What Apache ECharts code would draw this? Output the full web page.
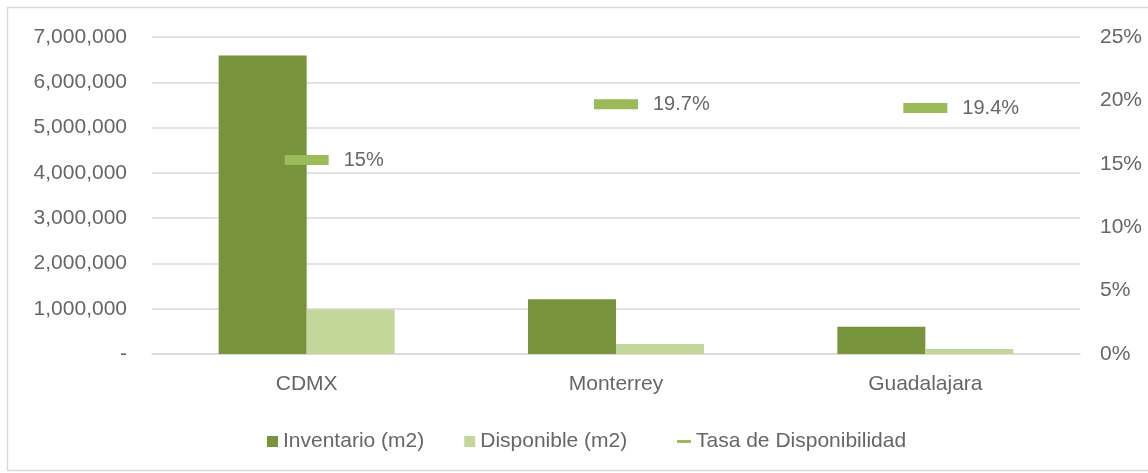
<!DOCTYPE html>
<html>
<head>
<meta charset="utf-8">
<script src="https://cdn.jsdelivr.net/npm/echarts@6/dist/echarts.min.js"></script>
<style>
html,body{margin:0;padding:0;background:#fff;}
#chart{width:1148px;height:473px;}
</style>
</head>
<body>
<div id="chart"></div>
<script>
const categories = ['CDMX', 'Monterrey', 'Guadalajara'];
const inventario = [6590000, 1210000, 600000];
const disponible = [990000, 220000, 110000];
const tasa = [15.3, 19.7, 19.4];
const tasaLabels = ['15%', '19.7%', '19.4%'];
const leftTickLabels = ['-', '1,000,000', '2,000,000', '3,000,000', '4,000,000', '5,000,000', '6,000,000', '7,000,000'];
const rightTickLabels = ['0%', '5%', '10%', '15%', '20%', '25%'];

const FONT = 'Liberation Sans';
const TXT = '#666666';
const chart = echarts.init(document.getElementById('chart'));
chart.setOption({
  animation: false,
  backgroundColor: '#fff',
  textStyle: { fontFamily: FONT },
  graphic: [{
    type: 'rect', silent: true, z: -10,
    shape: { x: 7.5, y: 7.5, width: 1160, height: 463 },
    style: { fill: 'none', stroke: '#d9d9d9', lineWidth: 1.5 }
  }],
  grid: { left: 152, right: 68, top: 37, bottom: 119 },
  legend: [{
    data: ['Inventario (m2)', 'Disponible (m2)'],
    left: 262, top: 426,
    icon: 'rect', itemWidth: 11, itemHeight: 11, itemGap: 40,
    textStyle: { color: TXT, fontSize: 21, fontFamily: FONT, padding: [0, 0, 0, 0] }
  }, {
    data: ['Tasa de Disponibilidad'],
    left: 672, top: 426,
    icon: 'rect', itemWidth: 14, itemHeight: 3,
    textStyle: { color: TXT, fontSize: 21, fontFamily: FONT }
  }],
  xAxis: {
    type: 'category', data: categories,
    axisLine: { lineStyle: { color: '#d9d9d9', width: 1.5 } },
    axisTick: { show: false },
    axisLabel: { color: TXT, fontSize: 21, margin: 20, fontFamily: FONT }
  },
  yAxis: [{
    type: 'value', min: 0, max: 7000000, interval: 1000000,
    axisLine: { show: false }, axisTick: { show: false },
    splitLine: { lineStyle: { color: '#d9d9d9', width: 1.5 } },
    axisLabel: { color: TXT, fontSize: 21, margin: 25, fontFamily: FONT,
      formatter: v => leftTickLabels[Math.round(v / 1000000)] }
  }, {
    type: 'value', min: 0, max: 25, interval: 5,
    axisLine: { show: false }, axisTick: { show: false },
    splitLine: { show: false },
    axisLabel: { color: TXT, fontSize: 21, margin: 20, fontFamily: FONT,
      formatter: v => rightTickLabels[Math.round(v / 5)] }
  }],
  series: [{
    name: 'Inventario (m2)', type: 'bar', data: inventario,
    barWidth: 88, barGap: '0%',
    itemStyle: { color: '#77933c' }
  }, {
    name: 'Disponible (m2)', type: 'bar', data: disponible,
    barWidth: 88,
    itemStyle: { color: '#c4d79b' }
  }, {
    name: 'Tasa de Disponibilidad', type: 'scatter', yAxisIndex: 1, data: tasa,
    symbol: 'rect', symbolSize: [44, 10], z: 5,
    itemStyle: { color: '#9bbb59', opacity: 1 },
    label: { show: true, position: 'right', distance: 15, color: TXT, fontSize: 20, fontFamily: FONT,
      formatter: p => tasaLabels[p.dataIndex] }
  }]
});
</script>
</body>
</html>
